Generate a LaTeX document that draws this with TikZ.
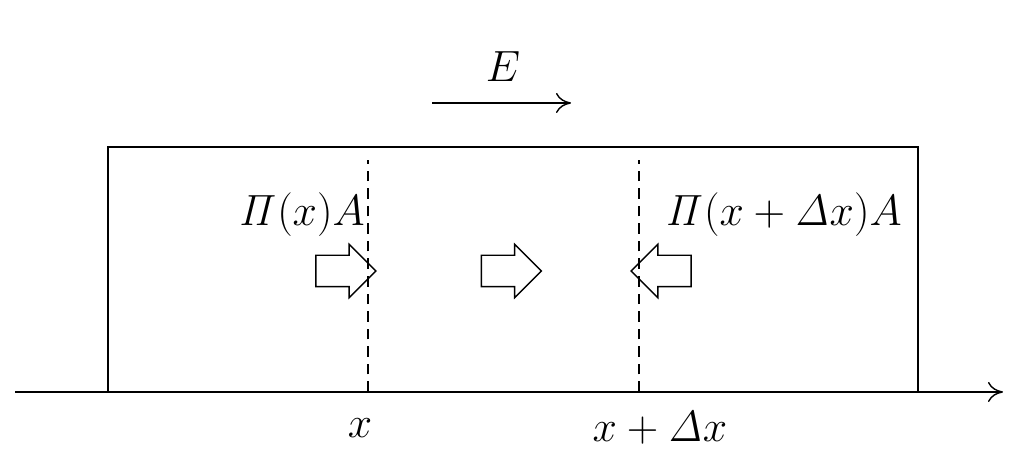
\documentclass[tikz,border=0pt]{standalone}
\usepackage{amsmath}
\usetikzlibrary{arrows.meta, positioning, shapes.arrows}

\tikzset{
    blockarrow/.style={draw, thick, single arrow, inner sep=0.3cm, minimum height=1.2cm,
        single arrow head extend=0.22cm, anchor=center},
    lbl/.style={font=\fontsize{24}{28}\selectfont, inner sep=0pt},
}

\begin{document}
\begin{tikzpicture}
    \useasboundingbox (0, 0) rectangle (20.66, 9.28);

    % axis and slab
    \coordinate (Ax0) at (0.3, 1.44);
    \coordinate (Ax1) at (20.06, 1.44);
    \draw[thick, -{To[length=3mm, width=4mm]}] (Ax0) -- (Ax1);
    \draw[thick] (2.16, 1.44) -- (2.16, 6.34) -- (18.36, 6.34) -- (18.36, 1.44);

    % cuts
    \coordinate (C1b) at (7.36, 1.44);
    \coordinate (C1t) at (7.36, 6.08);
    \coordinate (C2b) at (12.78, 1.44);
    \coordinate (C2t) at (12.78, 6.08);
    \draw[thick, dashed, dash pattern=on 6pt off 4pt] (C1b) -- (C1t);
    \draw[thick, dashed, dash pattern=on 6pt off 4pt] (C2b) -- (C2t);

    % field
    \coordinate (E0) at (8.64, 7.22);
    \coordinate (E1) at (11.42, 7.22);
    \draw[thick, -{To[length=3mm, width=4mm]}] (E0) -- (E1);
    \node[lbl] (Elab) at (10.06, 7.94) {$E$};

    % forces
    \node[blockarrow] (F1) at (6.76, 3.86) {};
    \node[blockarrow] (F2) at (10.07, 3.86) {};
    \node[blockarrow, shape border rotate=180] (F3) at (13.38, 3.86) {};

    \node[lbl, anchor=east] (P1) at (7.3, 4.98) {$\mathit{\Pi}(x)A$};
    \node[lbl, anchor=west] (P2) at (13.3, 4.98) {$\mathit{\Pi}(x+\mathit{\Delta} x)A$};

    \node[lbl] (X1) at (7.2, 0.72) {$x$};
    \node[lbl] (X2) at (13.2, 0.72) {$x+\mathit{\Delta} x$};
\end{tikzpicture}
\end{document}
